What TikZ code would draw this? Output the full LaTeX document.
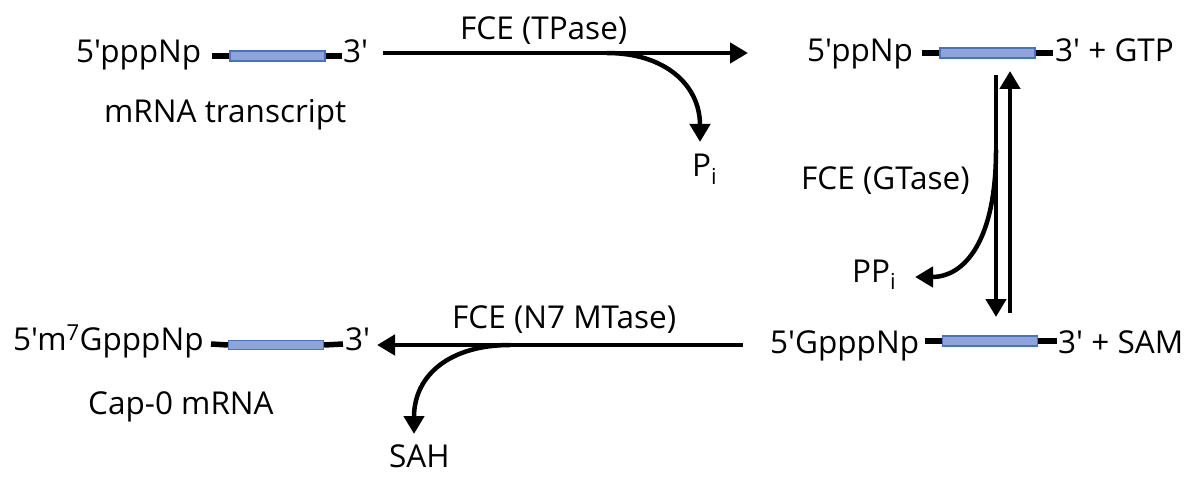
\documentclass[tikz,border=0pt]{standalone}
\usepackage{fontspec}
\setmainfont{Open Sans}[Ligatures=TeXOff]
\usetikzlibrary{arrows.meta}
\definecolor{barfill}{HTML}{8FA5DA}
\definecolor{barline}{HTML}{4472C4}

\begin{document}
\begin{tikzpicture}[x=1pt,y=-1pt,
    lbl/.style={anchor=base west,inner sep=0pt,font=\fontsize{31.5}{36}\selectfont},
    bar/.style={draw=barline,fill=barfill,line width=1.3pt,minimum width=95pt,minimum height=10pt,inner sep=0pt},
    tail/.style={line width=5.5pt},
    reac/.style={line width=4.5pt,-{Triangle[length=18pt,width=20pt]}}]

                \useasboundingbox (0,0) rectangle (1201,478);

                % mRNA transcript
                \node[lbl] (tlA) at (76,63) {5'pppNp};
                \node[bar] (bar1) at (277.5,56) {};
                \node[lbl] (tlB) at (343,63) {3'};
                \node[lbl] (tlC) at (104,123) {mRNA transcript};
                \draw[tail] (212,56)--(bar1.west) (bar1.east)--(342,56);

                % diphosphate mRNA
                \node[lbl] (trA) at (807,62) {5'ppNp};
                \node[bar] (bar2) at (987.5,53) {};
                \node[lbl] (trB) at (1055,62) {3' + GTP};
                \draw[tail] (922,53)--(bar2.west) (bar2.east)--(1053,53);

                % capped mRNA
                \node[lbl] (brA) at (770,353) {5'GpppNp};
                \node[bar] (bar3) at (990,341) {};
                \node[lbl] (brB) at (1058,353) {3' + SAM};
                \draw[tail] (925,341)--(bar3.west) (bar3.east)--(1057,341);

                % cap-0 mRNA
                \node[lbl] (blA) at (13,350) {5'm\textsuperscript{7}GpppNp};
                \node[bar,minimum height=9pt] (bar4) at (276,345) {};
                \node[lbl] (blB) at (345,350) {3'};
                \node[lbl] (blC) at (88,414) {Cap-0 mRNA};
                \draw[tail] (211,344)--(bar4.west) (bar4.east)--(343,344);

                % by-products and enzymes
                \node[lbl] (pi) at (692,177) {P\textsubscript{i}};
                \node[lbl] (ppi) at (852,282) {PP\textsubscript{i}};
                \node[lbl] (sah) at (389,467) {SAH};
                \node[lbl] (tpase) at (460,40) {FCE (TPase)};
                \node[lbl] (gtase) at (801,190) {FCE (GTase)};
                \node[lbl] (mtase) at (452,328) {FCE (N7 MTase)};

                % reaction arrows
                \coordinate (r1a) at (383,53);
                \coordinate (r1b) at (748,53);
                \coordinate (r1c) at (607,53);
                \coordinate (r2a) at (996,75);
                \coordinate (r2b) at (996,317);
                \coordinate (r2c) at (996,150);
                \coordinate (r3a) at (1010,313);
                \coordinate (r3b) at (1010,71);
                \coordinate (r4a) at (743,345);
                \coordinate (r4b) at (377,345);
                \coordinate (r4c) at (510,345);
                \coordinate (pit) at (700,142);
                \coordinate (ppit) at (915,277);
                \coordinate (saht) at (414,434);

                \draw[reac] (r1a)--(r1b);
                \draw[reac] (r1c) .. controls (665,53) and (700,85) .. (pit);
                \draw[reac] (r2a)--(r2b);
                \draw[reac] (r3a)--(r3b);
                \draw[reac] (r2c) .. controls (996,240) and (965,277) .. (ppit);
                \draw[reac] (r4a)--(r4b);
                \draw[reac] (r4c) .. controls (450,345) and (414,375) .. (saht);

\end{tikzpicture}
\end{document}
